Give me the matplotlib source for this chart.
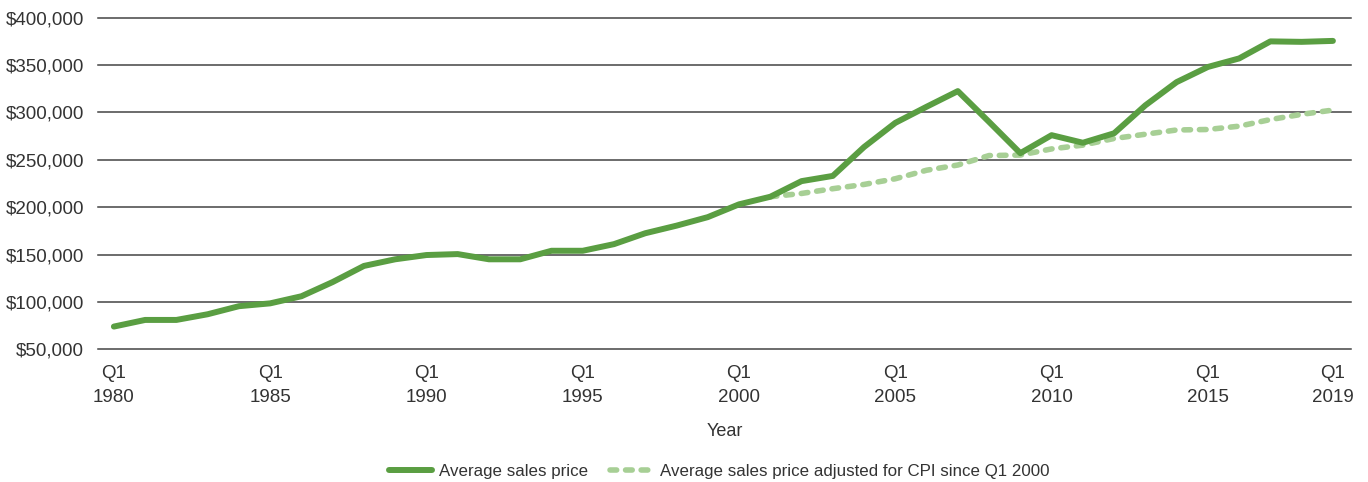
import matplotlib.pyplot as plt
from matplotlib.ticker import FuncFormatter
from matplotlib import font_manager

years = list(range(1980, 2020))
avg_price = [74000, 81000, 81000, 87000, 95500, 98500, 106000, 121000, 138000, 145000,
             149500, 150500, 145000, 145000, 154000, 154000, 161000, 172500, 180500, 189500,
             203000, 211000, 227500, 233000, 263500, 289000, 306000, 322500, 290000, 257000,
             276000, 268000, 278000, 307500, 332000, 348000, 357000, 375000, 374500, 375500]

cpi_years = list(range(2001, 2020))
cpi_price = [211000, 214500, 219500, 224000, 230000, 239000, 244500, 254500, 255000, 261500,
             265500, 272500, 277000, 281500, 282000, 285500, 292500, 298000, 302500]

tick_years = [1980, 1985, 1990, 1995, 2000, 2005, 2010, 2015, 2019]
tick_labels = ['Q1\n' + str(y) for y in tick_years]

names = [f.name for f in font_manager.fontManager.ttflist]
if 'Liberation Sans Narrow' in names:
    plt.rcParams['font.family'] = ['Liberation Sans Narrow', 'DejaVu Sans']
else:
    plt.rcParams['font.family'] = ['Liberation Sans', 'DejaVu Sans']

fig = plt.figure(figsize=(13.68, 4.82), dpi=100)
ax = fig.add_axes([0.0716, 0.2753, 0.916, 0.688])

ax.plot(years, avg_price, color='#5a9e42', lw=4.3, solid_capstyle='round',
        solid_joinstyle='round', label='Average sales price', zorder=3)
ax.plot(cpi_years, cpi_price, color='#a7cf95', lw=4.0, dashes=(1.2, 1.6),
        dash_capstyle='round', label='Average sales price adjusted for CPI since Q1 2000', zorder=2)

ax.set_ylim(50000, 400000)
ax.set_xlim(1979.49, 2019.58)
ax.set_yticks(range(50000, 400001, 50000))
ax.yaxis.set_major_formatter(FuncFormatter(lambda v, p: '${:,.0f}'.format(v)))
ax.set_xticks(tick_years)
ax.set_xticklabels(tick_labels)
ax.grid(axis='y', color='#444444', lw=1.1)
for gl in ax.yaxis.get_gridlines():
    gl.set_clip_on(False)
ax.set_axisbelow(True)
for s in ax.spines.values():
    s.set_visible(False)
ax.tick_params(axis='both', length=0, labelsize=13.5, colors='#333333')
ax.tick_params(axis='y', pad=10)
ax.tick_params(axis='x', pad=11)
for lab in ax.get_xticklabels():
    lab.set_linespacing(1.6)
ax.set_xlabel('Year', fontsize=13, color='#333333', labelpad=12)

fig.legend(loc='lower center', bbox_to_anchor=(0.526, -0.025), ncol=2, frameon=False,
           fontsize=12.2, handlelength=2.5, handletextpad=0.45, columnspacing=1.3,
           labelcolor='#333333')

fig.savefig('out.png', dpi=100)
